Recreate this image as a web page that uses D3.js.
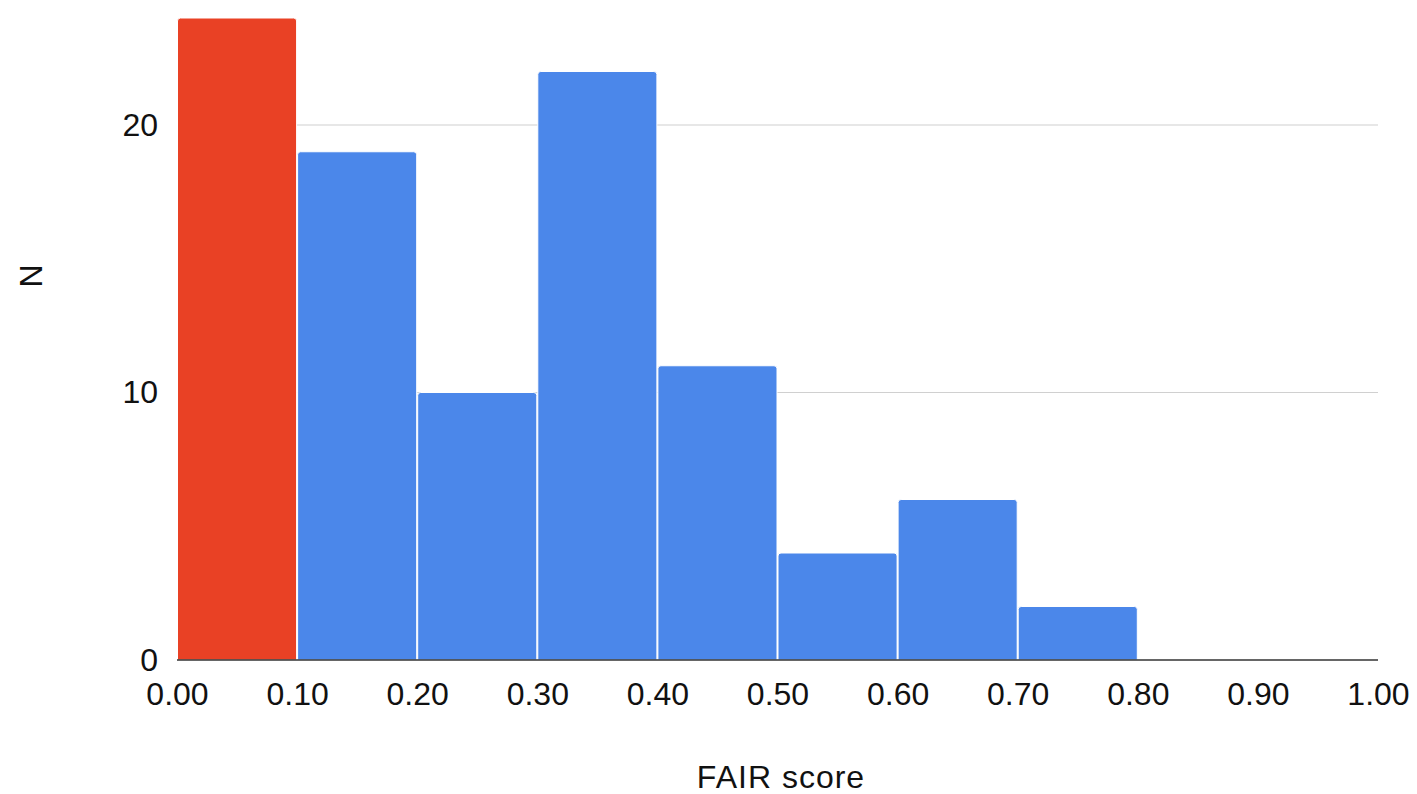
<!DOCTYPE html>
<html><head><meta charset="utf-8">
<script src="https://cdn.jsdelivr.net/npm/d3@7"></script>
<style>body{margin:0;background:#fff}text{font-family:"Liberation Sans",Arial,sans-serif}</style>
</head><body><svg id="c" width="1417" height="794"></svg>
<script>
const binStarts = [0.0,0.1,0.2,0.3,0.4,0.5,0.6,0.7,0.8,0.9];
const counts = [24,19,10,22,11,4,6,2,0,0];
const barColors = ["#e94125","#4b87ea","#4b87ea","#4b87ea","#4b87ea","#4b87ea","#4b87ea","#4b87ea","#4b87ea","#4b87ea"];
const xTicks = [0,0.1,0.2,0.3,0.4,0.5,0.6,0.7,0.8,0.9,1.0];
const yTicks = [0,10,20];
const binWidth = 0.1;

const svg = d3.select("#c");
const x = d3.scaleLinear().domain([0,1]).range([177,1378]);
const y = d3.scaleLinear().domain([0,10]).range([660,392.5]);
const FS = 32;

// gridlines
svg.append("g").selectAll("line").data(yTicks.filter(d=>d>0)).join("line")
  .attr("x1",x(0)).attr("x2",x(1)).attr("y1",d=>y(d)).attr("y2",d=>y(d))
  .attr("stroke","#d0d0d0").attr("stroke-width",1.2);

// bars
svg.append("g").selectAll("path").data(binStarts.map((b,i)=>({b,c:counts[i],col:barColors[i]})).filter(d=>d.c>0)).join("path")
  .attr("d",d=>{
    const x0=x(d.b)+0.5, x1=x(d.b+binWidth)-0.5, y0=y(d.c), yb=y(0), r=3;
    return `M${x0},${yb}L${x0},${y0+r}Q${x0},${y0} ${x0+r},${y0}L${x1-r},${y0}Q${x1},${y0} ${x1},${y0+r}L${x1},${yb}Z`;
  })
  .attr("fill",d=>d.col).attr("stroke","#fff").attr("stroke-width",1);

// baseline
svg.append("line").attr("x1",x(0)).attr("x2",x(1)).attr("y1",y(0)).attr("y2",y(0))
  .attr("stroke","#333").attr("stroke-width",1.5);

// y axis labels
const ya = svg.append("g").attr("transform","translate(158,0)")
  .call(d3.axisLeft(y).tickValues(yTicks).tickSize(0).tickPadding(0).tickFormat(d3.format("d")));
ya.select(".domain").remove();
ya.selectAll("text").attr("font-size",FS).attr("fill","#111").attr("font-family","Liberation Sans, Arial, sans-serif");

// x axis labels
const xa = svg.append("g").attr("transform","translate(0,682)")
  .call(d3.axisBottom(x).tickValues(xTicks).tickSize(0).tickPadding(0).tickFormat(d3.format(".2f")));
xa.select(".domain").remove();
xa.selectAll("text").attr("font-size",FS).attr("fill","#111").attr("dy","0.71em").attr("font-family","Liberation Sans, Arial, sans-serif");

// axis titles
svg.append("text").attr("x",781).attr("y",788).attr("text-anchor","middle")
  .attr("font-size",FS).attr("letter-spacing",1).attr("fill","#111").text("FAIR score");
svg.append("text").attr("transform","translate(42,276) rotate(-90)").attr("text-anchor","middle")
  .attr("font-size",FS).attr("fill","#111").text("N");
</script></body></html>
